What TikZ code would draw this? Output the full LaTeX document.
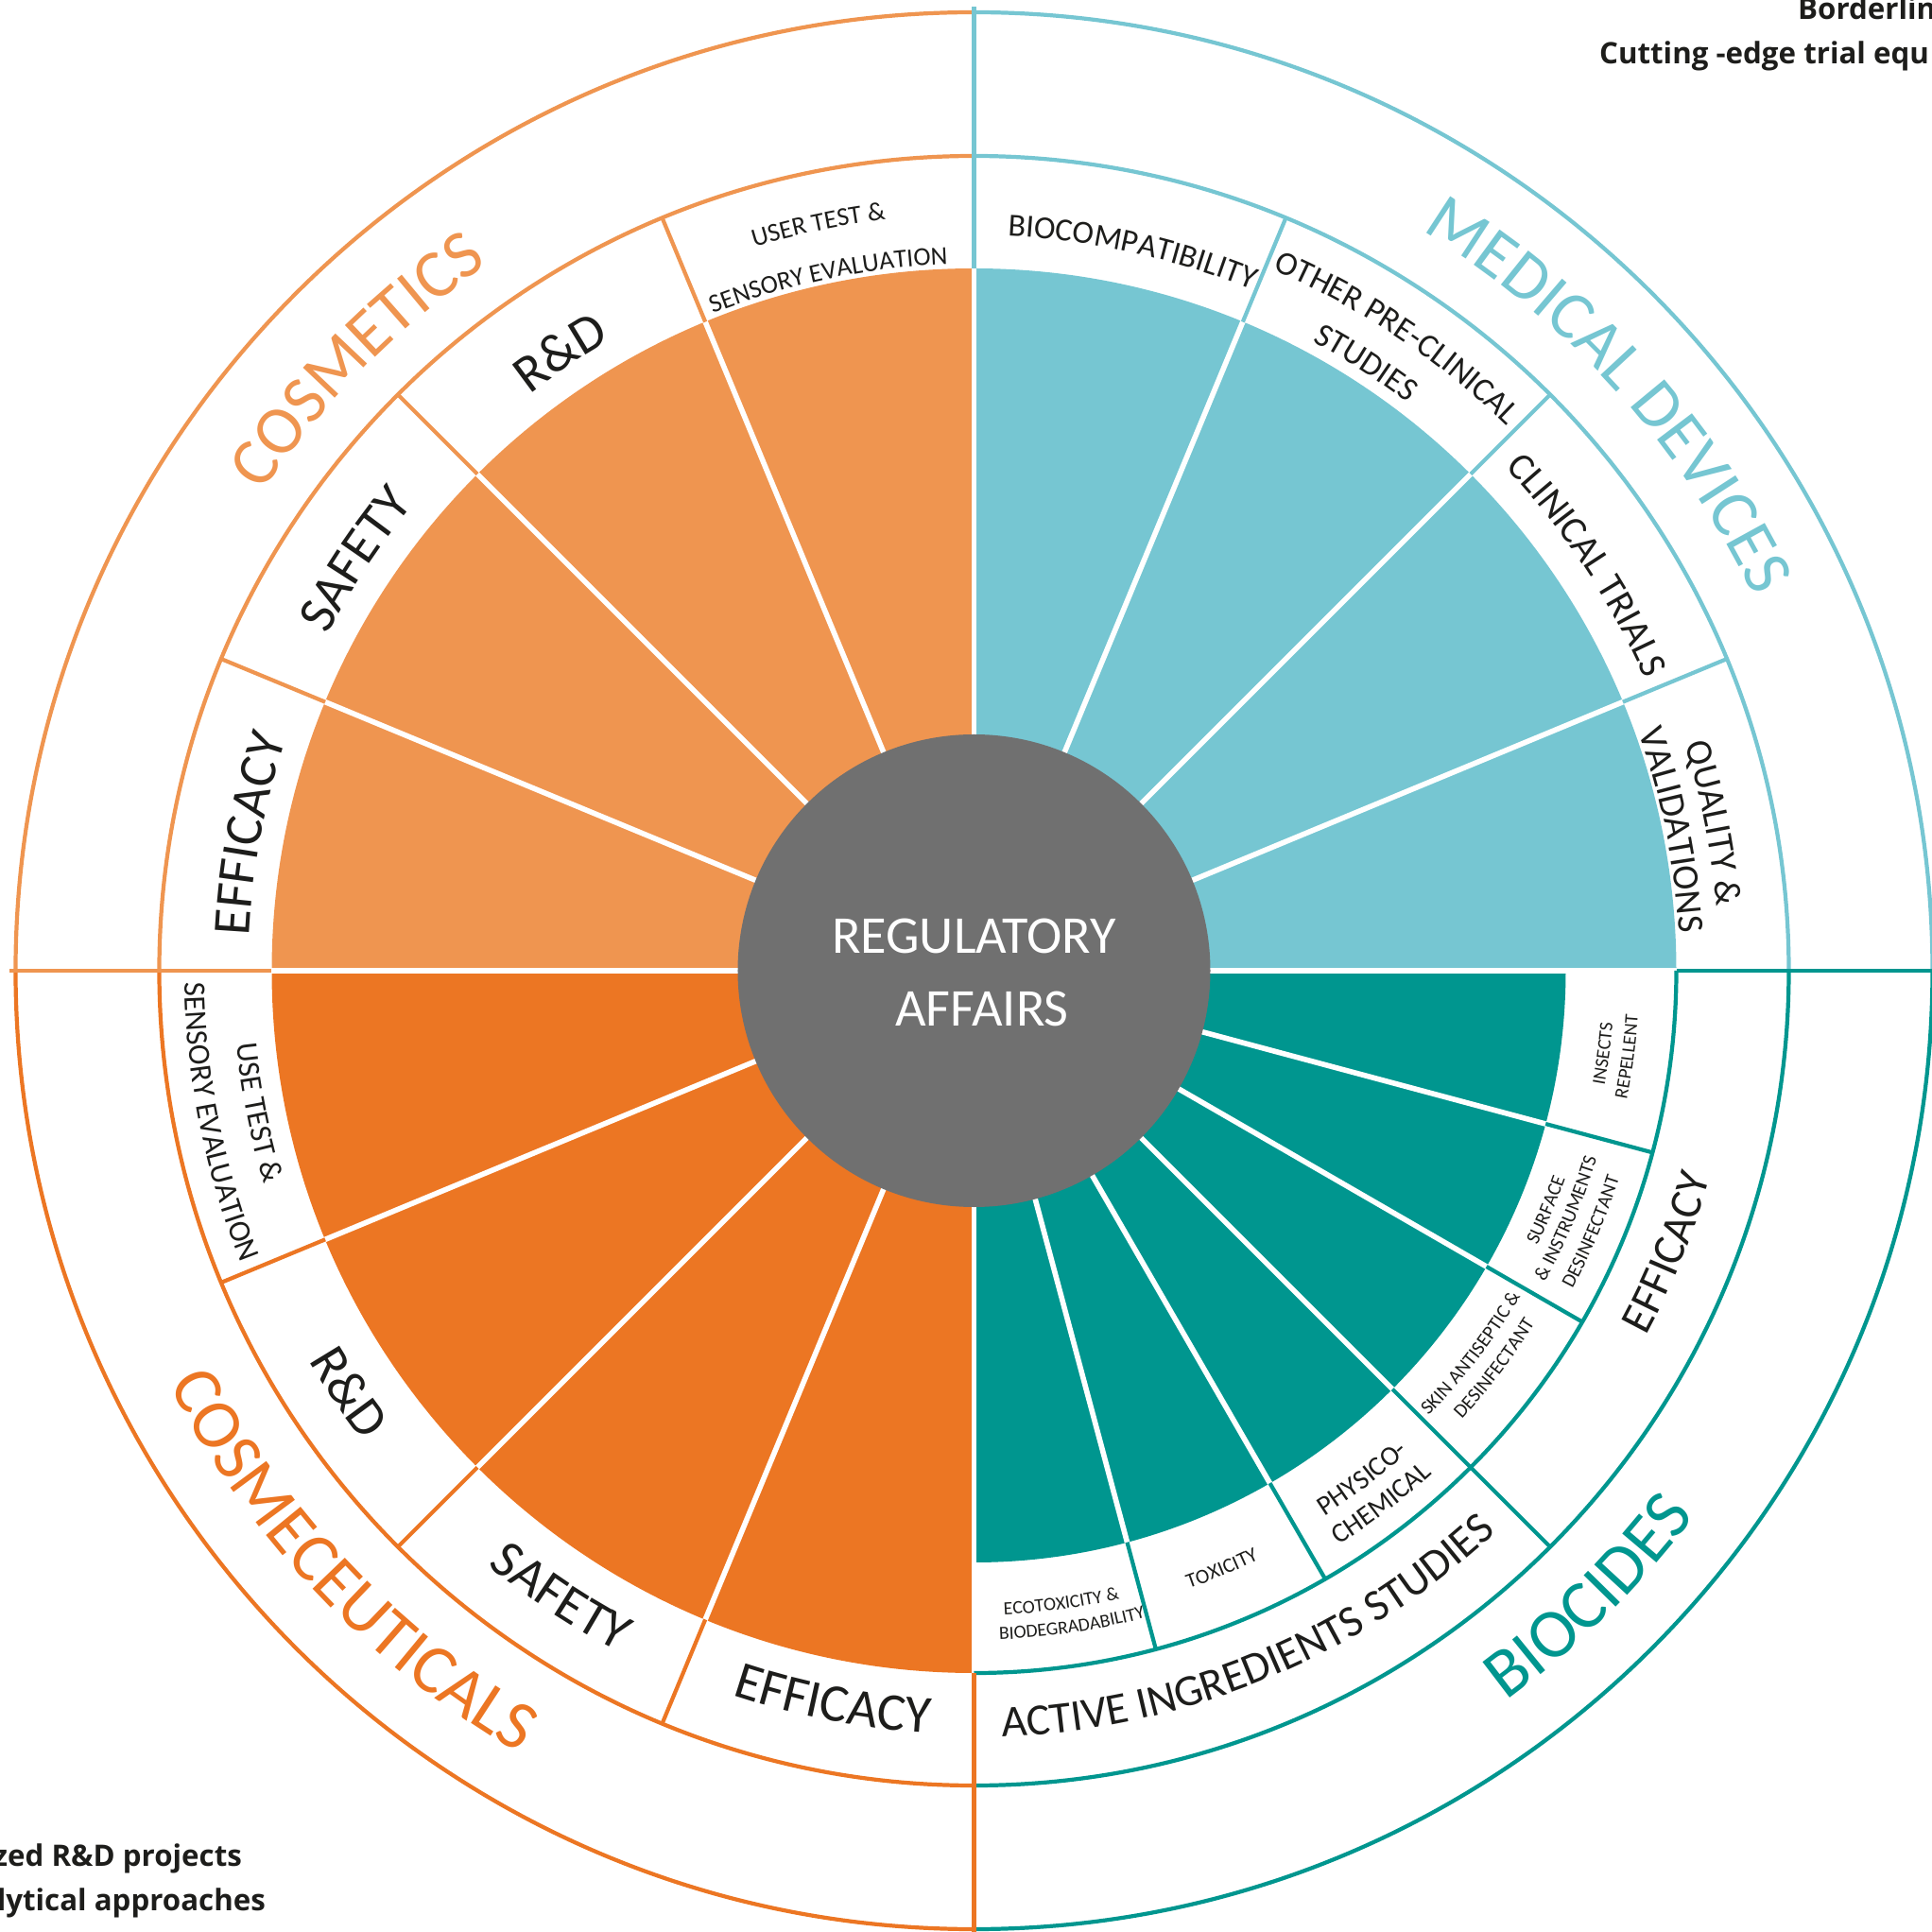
\documentclass[tikz,border=0pt]{standalone}
\usepackage{fontspec}
\setmainfont{Carlito}
\newfontfamily\cornerfont{Open Sans}
\usetikzlibrary{decorations.text}
\definecolor{cosmo}{HTML}{EF9550}
\definecolor{ceut}{HTML}{EC7623}
\definecolor{medi}{HTML}{76C6D2}
\definecolor{bioc}{HTML}{00968F}
\definecolor{core}{HTML}{707070}
\definecolor{ink}{HTML}{1D1D1B}
\newcommand\fs[1]{\fontsize{#1}{#1}\selectfont}
% text on an arc round the centre: font, radius, middle angle, text
\newcommand\toparc[4]{\path[decorate,decoration={text along path,text align=center,text={|#1|#4}}]
  ({#3+45}:#2) arc[start angle=#3+45,end angle=#3-45,radius=#2];}
\newcommand\botarc[4]{\path[decorate,decoration={text along path,text align=center,text={|#1|#4}}]
  ({#3-45}:#2) arc[start angle=#3-45,end angle=#3+45,radius=#2];}
\begin{document}
\begin{tikzpicture}[line width=1.2pt,
    wline/.style={white,line width=1.6pt},
    corner/.style={font=\cornerfont\bfseries\fs{8.9},text=ink,inner sep=0pt}]
  \useasboundingbox (-10.305,-10.17) rectangle (10.135,10.27);
  \clip (-10.305,-10.17) rectangle (10.135,10.27);
  % wedges
  \fill[cosmo] (0,0) -- (90:7.43) arc[start angle=90,end angle=180,radius=7.43] -- cycle;
  \fill[medi] (0,0) -- (0:7.43) arc[start angle=0,end angle=90,radius=7.43] -- cycle;
  \fill[ceut] (0,0) -- (180:7.43) arc[start angle=180,end angle=270,radius=7.43] -- cycle;
  \fill[bioc] (0,0) -- (270:6.26) arc[start angle=270,end angle=360,radius=6.26] -- cycle;
  \foreach \a in {0,22.5,...,270} \draw[wline] (0,0) -- (\a:7.46);
  \foreach \a in {285,300,...,345} \draw[wline] (0,0) -- (\a:6.29);
  % centre
  \fill[core] (0,0) circle (2.50);
  \node[white,font=\fs{16}] (reg) at (0,0.363) {REGULATORY};
  \node[white,font=\fs{16}] (aff) at (0.085,-0.406) {AFFAIRS};
  % rings
  \draw[cosmo] (90:8.62) arc[start angle=90,end angle=180,radius=8.62];
  \draw[cosmo] (90:10.14) arc[start angle=90,end angle=180,radius=10.14];
  \draw[medi] (0:8.62) arc[start angle=0,end angle=90,radius=8.62];
  \draw[medi] (0:10.14) arc[start angle=0,end angle=90,radius=10.14];
  \draw[ceut] (180:8.62) arc[start angle=180,end angle=270,radius=8.62];
  \draw[ceut] (180:10.14) arc[start angle=180,end angle=270,radius=10.14];
  \draw[bioc] (270:7.43) arc[start angle=270,end angle=360,radius=7.43];
  \draw[bioc] (270:8.62) arc[start angle=270,end angle=360,radius=8.62];
  \draw[bioc] (270:10.14) arc[start angle=270,end angle=360,radius=10.14];
  \foreach \a in {112.5,135,157.5} \draw[cosmo] (\a:7.43) -- (\a:8.62);
  \foreach \a in {22.5,45,67.5} \draw[medi] (\a:7.43) -- (\a:8.62);
  \foreach \a in {202.5,225,247.5} \draw[ceut] (\a:7.43) -- (\a:8.62);
  \foreach \a in {285,300,330,345} \draw[bioc] (\a:6.26) -- (\a:7.43);
  \draw[bioc] (315:6.26) -- (315:8.62);
  \draw[medi] (90:7.43) -- (90:10.2);
  \draw[cosmo] (180:7.43) -- (180:10.2);
  \draw[ceut] (270:7.43) -- (270:10.2);
  \draw[bioc] (0:7.43) -- (0:10.2);
  % cosmetics
  \toparc{\fs{7.8}\color{ink}}{8.00}{101.8}{USER TEST {\&}}
  \toparc{\fs{7.8}\color{ink}}{7.48}{101.9}{SENSORY EVALUATION}
  \toparc{\fs{16}\color{ink}}{7.70}{123.8}{R{\&}D}
  \toparc{\fs{16}\color{ink}}{7.71}{146.4}{SAFETY}
  \toparc{\fs{16}\color{ink}}{7.68}{169.3}{EFFICACY}
  \toparc{\fs{20.5}\color{cosmo}}{9.07}{135.3}{COSMETICS}
  % medical devices
  \toparc{\fs{9.7}\color{ink}}{7.78}{77.6}{BIOCOMPATIBILITY}
  \toparc{\fs{10}\color{ink}}{8.06}{56.3}{OTHER PRE-CLINICAL}
  \toparc{\fs{10}\color{ink}}{7.56}{57.2}{STUDIES}
  \toparc{\fs{11.6}\color{ink}}{7.74}{33.5}{CLINICAL TRIALS}
  \toparc{\fs{11.2}\color{ink}}{7.89}{11.3}{QUALITY {\&}}
  \toparc{\fs{11.2}\color{ink}}{7.47}{11.4}{VALIDATIONS}
  \toparc{\fs{20.5}\color{medi}}{9.15}{42.2}{MEDICAL DEVICES}
  % cosmeceuticals
  \botarc{\fs{9.3}\color{ink}}{7.84}{191.2}{USE TEST {\&}}
  \botarc{\fs{9.3}\color{ink}}{8.35}{191.3}{SENSORY EVALUATION}
  \botarc{\fs{16}\color{ink}}{8.16}{214}{R{\&}D}
  \botarc{\fs{16}\color{ink}}{8.13}{236.6}{SAFETY}
  \botarc{\fs{16}\color{ink}}{8.08}{259.1}{EFFICACY}
  \botarc{\fs{21}\color{ceut}}{9.58}{223.5}{COSMECEUTICALS}
  % biocides
  \botarc{\fs{13.4}\color{ink}}{8.11}{292.5}{ACTIVE INGREDIENTS STUDIES}
  \botarc{\fs{13.6}\color{ink}}{8.09}{337.9}{EFFICACY}
  \botarc{\fs{21}\color{bioc}}{9.56}{314.5}{BIOCIDES}
  \botarc{\fs{5.6}\color{ink}}{6.82}{277.85}{ECOTOXICITY {\&}}
  \botarc{\fs{5.6}\color{ink}}{7.08}{278.5}{BIODEGRADABILITY}
  \botarc{\fs{6.2}\color{ink}}{6.92}{292.5}{TOXICITY}
  \botarc{\fs{8.3}\color{ink}}{6.86}{307.4}{PHYSICO-}
  \botarc{\fs{8.3}\color{ink}}{7.20}{307.4}{CHEMICAL}
  \botarc{\fs{5.9}\color{ink}}{6.73}{322.4}{SKIN ANTISEPTIC {\&}}
  \botarc{\fs{5.9}\color{ink}}{7.01}{322.6}{DESINFECTANT}
  \botarc{\fs{5.9}\color{ink}}{6.63}{337.3}{SURFACE}
  \botarc{\fs{5.9}\color{ink}}{6.88}{337.3}{{\&} INSTRUMENTS}
  \botarc{\fs{5.9}\color{ink}}{7.17}{337.1}{DESINFECTANT}
  \botarc{\fs{5.7}\color{ink}}{6.78}{352.5}{INSECTS}
  \botarc{\fs{5.7}\color{ink}}{7.04}{352.5}{REPELLENT}
  % corner texts
  \node[corner,anchor=base west] (bord) at (8.695,10.06) {Borderlin};
  \node[corner,anchor=base west] (cutt) at (6.595,9.59) {Cutting -edge trial equ};
  \node[corner,anchor=base east] (proj) at (-7.725,-9.47) {zed R\&D projects};
  \node[corner,anchor=base east] (anal) at (-7.475,-9.94) {lytical approaches};
\end{tikzpicture}
\end{document}
